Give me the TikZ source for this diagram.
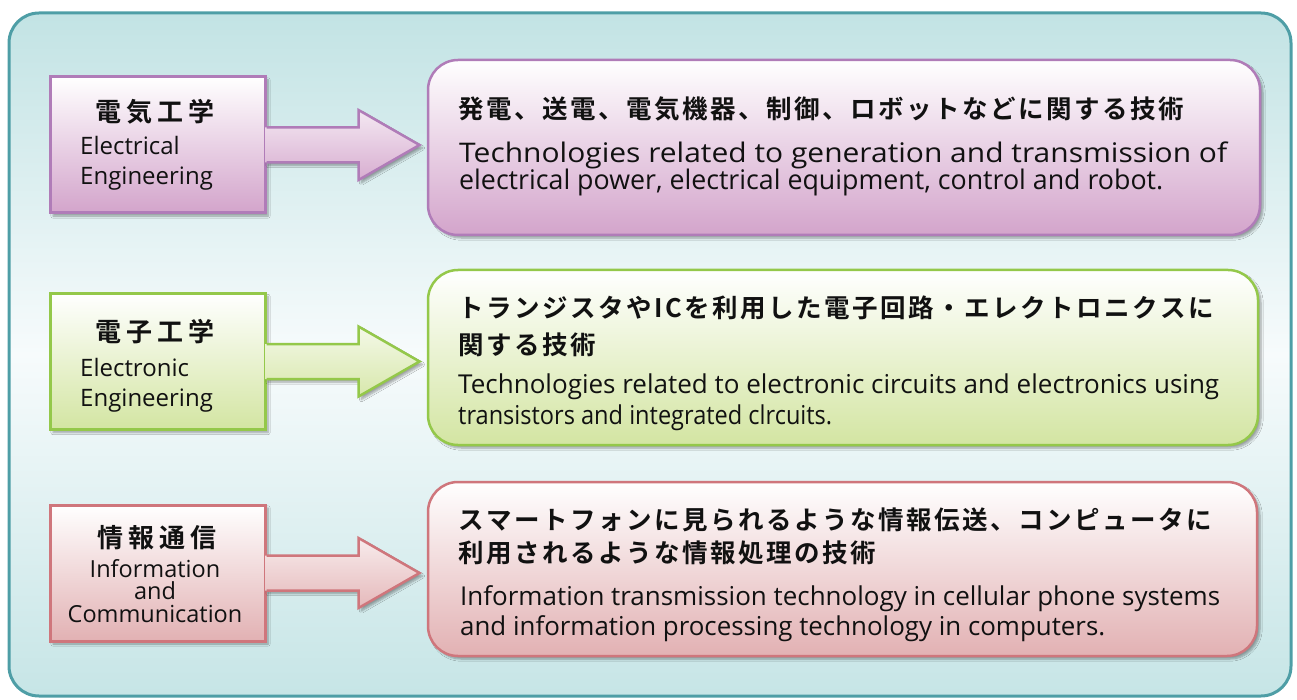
\documentclass[tikz,border=0pt]{standalone}
\usepackage{fontspec}
\usepackage{graphicx}
\setmainfont{Open Sans}
\newfontfamily\jp{Noto Sans CJK JP}[BoldFont={Noto Sans CJK JP Bold}]
\usetikzlibrary{shadows,shadows.blur}
\definecolor{bgT}{HTML}{C2E3E4}
\definecolor{bgM}{HTML}{F7FBFC}
\definecolor{bgB}{HTML}{C6E5E6}
\definecolor{frameC}{HTML}{4E9EA6}
\definecolor{pB}{HTML}{B07CB8}
\definecolor{pD}{HTML}{D3A4CB}
\definecolor{gB}{HTML}{94C84A}
\definecolor{gD}{HTML}{D3E5A2}
\definecolor{rB}{HTML}{CF767C}
\definecolor{rD}{HTML}{E2B1B3}
\definecolor{txt}{HTML}{111111}
\def\jpgap{3pt}
\def\sjpA#1{\ifx#1\relax\else#1\hspace{\jpgap}\expandafter\sjpA\fi}
\newcommand\sjp[2]{{\jp\bfseries\fontsize{#1}{#1}\selectfont\sjpA#2\relax}}
\tikzset{
  shad/.style={blur shadow={shadow xshift=3pt,shadow yshift=-3pt,shadow opacity=35,shadow blur steps=6}},
  lbox/.style={draw=#1B,line width=3pt,top color=white,bottom color=#1D,shad,
     minimum width=215pt,minimum height=136pt,inner sep=0pt},
  rbox/.style={draw=#1B,line width=2.5pt,top color=white,bottom color=#1D,shad,
     rounded corners=30pt,inner sep=0pt},
  arrfill/.style={top color=#1D!25,bottom color=#1D!90,shad},
  arrline/.style={draw=#1B,line width=2.5pt,line join=miter},
  tx/.style={anchor=base west,inner sep=0pt,text=txt},
  tc/.style={anchor=base,inner sep=0pt,text=txt},
}
\newcommand\blockarrow[2]{%
  \path[arrfill=#2] (#1.east) ++(-1.5,-17.5) -- ++(93.5,0) -- ++(0,-17.5) -- ++(61,35)
     -- ++(-61,35) -- ++(0,-17.5) -- ++(-93.5,0) -- cycle;
  \draw[arrline=#2] (#1.east) ++(0,-17.5) -- ++(92,0) -- ++(0,-17.5) -- ++(61,35)
     -- ++(-61,35) -- ++(0,-17.5) -- ++(-92,0);
}
\begin{document}
\begin{tikzpicture}[x=1pt,y=-1pt]
\useasboundingbox (0,0) rectangle (1297,700);
\path[draw=frameC,line width=3pt,rounded corners=30pt,top color=bgT,bottom color=bgB,middle color=bgM]
  (9,13) rectangle (1291,696);
% left boxes
\node[lbox=p] (L1) at (157.5,145) {};
\node[lbox=g] (L2) at (157.5,361.5) {};
\node[lbox=r] (L3) at (157.5,573) {};
% arrows
\blockarrow{L1}{p}
\blockarrow{L2}{g}
\blockarrow{L3}{r}
% right boxes
\node[rbox=p,minimum width=832pt,minimum height=175pt] (R1) at (844,147.5) {};
\node[rbox=g,minimum width=830pt,minimum height=175pt] (R2) at (843,357.5) {};
\node[rbox=r,minimum width=829pt,minimum height=174pt] (R3) at (842.5,569) {};
% left texts
\def\jpgap{5pt}
\node[tx] (L1j) at (95,122) {\sjp{26pt}{電気工学}};
\node[tx] (L1e1) at (80,155) {\fontsize{24pt}{24pt}\selectfont Electrical};
\node[tx] (L1e2) at (80,185) {\fontsize{24pt}{24pt}\selectfont Engineering};
\node[tx] (L2j) at (95,341) {\sjp{26pt}{電子工学}};
\node[tx] (L2e1) at (80,376) {\fontsize{24pt}{24pt}\selectfont Electronic};
\node[tx] (L2e2) at (80,406) {\fontsize{24pt}{24pt}\selectfont Engineering};
\node[tx] (L3j) at (97,547) {\sjp{26pt}{情報通信}};
\node[tc] (L3e1) at (155,577) {\fontsize{23.5pt}{23.5pt}\selectfont Information};
\node[tc] (L3e2) at (155,599) {\fontsize{23.5pt}{23.5pt}\selectfont and};
\node[tc] (L3e3) at (155,622) {\fontsize{23.5pt}{23.5pt}\selectfont Communication};
% right texts
\def\jpgap{2.5pt}
\node[tx] (R1j) at (458,119) {\sjp{25.5pt}{発電、送電、電気機器、制御、ロボットなどに関する技術}};
\node[tx] (R1e1) at (459,163) {\resizebox{768pt}{\height}{\fontsize{27pt}{27pt}\selectfont Technologies related to generation and transmission of}};
\node[tx] (R1e2) at (459,190) {\resizebox{704pt}{\height}{\fontsize{27pt}{27pt}\selectfont electrical power, electrical equipment, control and robot.}};
\node[tx] (R2j1) at (458,317) {\sjp{25.5pt}{トランジスタやICを利用した電子回路・エレクトロニクスに}};
\node[tx] (R2j2) at (458,354) {\sjp{25.5pt}{関する技術}};
\node[tx] (R2e1) at (458,393) {\resizebox{761pt}{\height}{\fontsize{26pt}{26pt}\selectfont Technologies related to electronic circuits and electronics using}};
\node[tx] (R2e2) at (458,424) {\resizebox{374pt}{\height}{\fontsize{26pt}{26pt}\selectfont transistors and integrated clrcuits.}};
\node[tx] (R3j1) at (458,529) {\sjp{25.5pt}{スマートフォンに見られるような情報伝送、コンピュータに}};
\node[tx] (R3j2) at (458,562) {\sjp{25.5pt}{利用されるような情報処理の技術}};
\node[tx] (R3e1) at (460,605) {\resizebox{760pt}{\height}{\fontsize{26pt}{26pt}\selectfont Information transmission technology in cellular phone systems}};
\node[tx] (R3e2) at (460,635) {\resizebox{645pt}{\height}{\fontsize{26pt}{26pt}\selectfont and information processing technology in computers.}};
\end{tikzpicture}
\end{document}
